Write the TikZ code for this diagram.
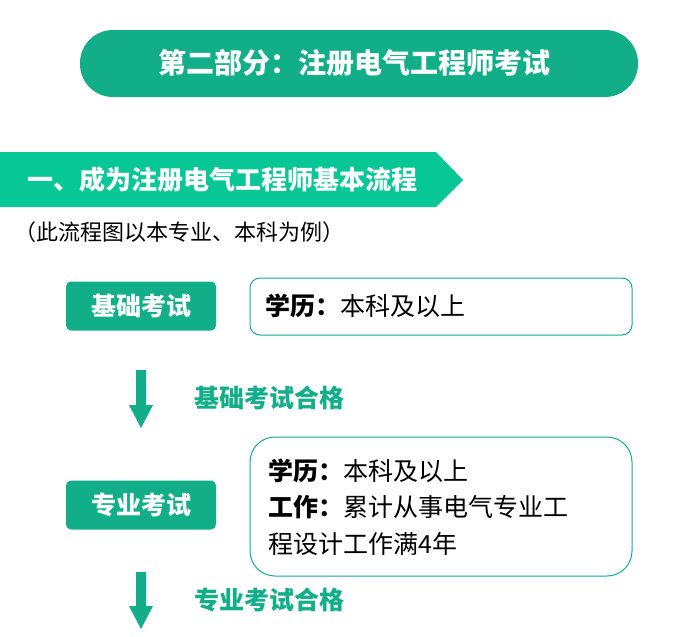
\documentclass[tikz,border=0pt]{standalone}
\usepackage{fontspec}
\setmainfont{Noto Sans CJK SC}
\begin{document}
\begin{tikzpicture}[x=1pt,y=-1pt,
  gbox/.style={fill=boxg,rounded corners=5pt,text=white,font=\fontsize{25}{28}\selectfont\bfseries,minimum width=150pt,minimum height=49pt},
  darrow/.style={fill=arrg},
  glabel/.style={text=arrg,font=\fontsize{25}{28}\selectfont\bfseries,anchor=west,inner sep=0pt}]
\definecolor{boxg}{HTML}{12AE88}
\definecolor{chev}{HTML}{07C797}
\definecolor{arrg}{HTML}{12AE88}
\useasboundingbox (0,0) rectangle (686,637);
\fill[boxg,rounded corners=33pt] (80,30) rectangle (638,97);
\node[text=white,font=\fontsize{28}{32}\selectfont\bfseries] (title) at (354,63) {第二部分：注册电气工程师考试};
\fill[chev] (0,152) -- (436,152) -- (463,180) -- (436,207) -- (0,207) -- cycle;
\node[text=white,font=\fontsize{26}{30}\selectfont\bfseries,anchor=west,inner sep=0pt] (sec) at (27,180) {一、成为注册电气工程师基本流程};
\node[font=\fontsize{22}{26}\selectfont,anchor=west,inner sep=0pt] (note) at (14,232) {（此流程图以本专业、本科为例）};
\node[gbox] (b1) at (141,306) {基础考试};
\draw[boxg,line width=1pt,fill=white,rounded corners=10pt] (250,278) rectangle (632,335);
\node[font=\fontsize{25}{28}\selectfont,anchor=west,inner sep=0pt] (r1) at (265,306) {\textbf{学历：}本科及以上};
\fill[darrow] (136,370) -- (146,370) -- (146,405) -- (153,405) -- (141,428) -- (129,405) -- (136,405) -- cycle;
\node[glabel] (l1) at (194,398) {基础考试合格};
\node[gbox] (b2) at (141,505) {专业考试};
\draw[boxg,line width=1pt,fill=white,rounded corners=25pt] (250,437) rectangle (632,576);
\node[font=\fontsize{25}{36.5}\selectfont,anchor=west,inner sep=0pt,align=left] (r2) at (268,507) {\textbf{学历：}本科及以上\\\textbf{工作：}累计从事电气专业工\\程设计工作满4年};
\fill[darrow] (136,572) -- (146,572) -- (146,606) -- (153,606) -- (141,629) -- (129,606) -- (136,606) -- cycle;
\node[glabel] (l2) at (194,600) {专业考试合格};
\end{tikzpicture}
\end{document}
